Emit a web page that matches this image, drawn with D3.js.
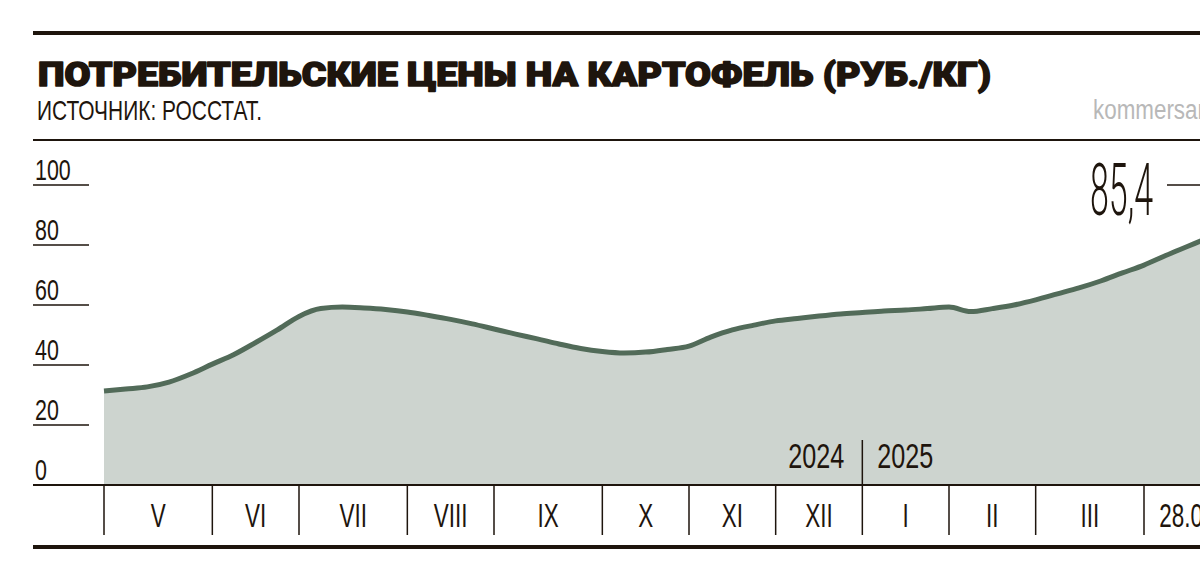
<!DOCTYPE html>
<html>
<head>
<meta charset="utf-8">
<script src="https://cdn.jsdelivr.net/npm/d3@7"></script>
<style>
  body { margin: 0; background: #fff; }
  svg { display: block; }
  text { fill: #1e150d; }
</style>
</head>
<body>
<div class="container"></div>
<script>
// weekly prices, rub/kg, May 2024 .. 28.04.2025
var prices = [31.3, 32.0, 32.7, 34.3, 37.0, 40.3, 43.5, 47.5, 51.7, 56.2,
  58.8, 59.3, 59.0, 58.5, 57.7, 56.5, 55.2, 53.7, 52.0, 50.3,
  48.7, 47.0, 45.5, 44.5, 44.0, 44.3, 45.2, 46.3, 49.3, 51.7,
  53.3, 54.7, 55.5, 56.3, 57.0, 57.5, 58.0, 58.3, 58.8, 59.3,
  57.8, 58.8, 60.0, 61.7, 63.7, 65.7, 68.0, 70.7, 73.3, 76.5,
  79.5, 82.5, 85.4]

var monthStarts = [0, 5, 9, 14, 18, 23, 27, 31, 35, 39, 43, 48, 52]
var monthLabels = ['V', 'VI', 'VII', 'VIII', 'IX', 'X', 'XI', 'XII', 'I', 'II', 'III', '28.04']
var yTicks = [0, 20, 40, 60, 80, 100]
var yearSplit = 35
var years = ['2024', '2025']

var title = 'ПОТРЕБИТЕЛЬСКИЕ ЦЕНЫ НА КАРТОФЕЛЬ (РУБ./КГ)'
var source = 'ИСТОЧНИК: РОССТАТ.'
var lastLabel = '85,4'

var W = 1200, H = 580
var dark = '#1e150d'
var thinFont = '"Liberation Sans", Arial, sans-serif'

var svg = d3.select('.container').append('svg')
  .attr('width', W).attr('height', H)

svg.append('rect').attr('width', W).attr('height', H).attr('fill', '#fff')

var x = d3.scaleLinear().domain([0, 48]).range([104, 1144])
var y = d3.scaleLinear().domain([0, 100]).range([485, 185])

// condensed text: put in a translated g and squash horizontally
function condText(parent, tx, ty, str, size, sx, anchor){
  return parent.append('g').attr('transform', `translate(${tx},${ty})`)
    .append('text')
    .attr('transform', `scale(${sx},1)`)
    .attr('text-anchor', anchor || 'start')
    .style('font-family', thinFont)
    .style('font-size', size + 'px')
    .text(str)
}

// header
svg.append('rect').attr('x', 33).attr('y', 31).attr('width', W).attr('height', 4).attr('fill', dark)

svg.append('text')
  .attr('x', 38).attr('y', 86)
  .attr('textLength', 953).attr('lengthAdjust', 'spacingAndGlyphs')
  .style('font-family', 'Roboto, "DejaVu Sans", sans-serif')
  .style('font-weight', 900)
  .style('font-size', '34px')
  .style('stroke', dark).style('stroke-width', 1.6).style('stroke-linejoin', 'round')
  .text(title)

svg.append('text')
  .attr('x', 37).attr('y', 120)
  .attr('textLength', 225).attr('lengthAdjust', 'spacingAndGlyphs')
  .style('font-family', thinFont)
  .style('font-size', '28px')
  .text(source)

condText(svg, 1093, 119, 'kommersant', 28, 0.8).style('fill', '#b8b8b8')

svg.append('rect').attr('x', 33).attr('y', 139).attr('width', W).attr('height', 2).attr('fill', dark)

// area + line
var area = d3.area()
  .x((d, i) => x(i))
  .y0(y(0))
  .y1(d => y(d))
  .curve(d3.curveMonotoneX)

var line = d3.line()
  .x((d, i) => x(i))
  .y(d => y(d))
  .curve(d3.curveMonotoneX)

svg.append('path').datum(prices).attr('d', area).attr('fill', '#cdd4cf')
svg.append('path').datum(prices).attr('d', line)
  .attr('fill', 'none').attr('stroke', '#526b59').attr('stroke-width', 5)
  .attr('stroke-linejoin', 'round')

// y axis
var yTickSel = svg.append('g').selectAll('g').data(yTicks).join('g')
  .attr('transform', d => `translate(0,${y(d)})`)
yTickSel.filter(d => d > 0).append('rect')
  .attr('x', 33).attr('y', -0.75).attr('width', 56).attr('height', 1.5).attr('fill', dark)
yTickSel.each(function(d){
  condText(d3.select(this), 35, -5, d, 29, 0.74)
})

// x axis
svg.append('rect').attr('x', 33).attr('y', y(0) - 1).attr('width', W).attr('height', 2).attr('fill', dark)

svg.append('g').selectAll('rect').data(monthStarts).join('rect')
  .attr('x', d => x(d) - 0.75).attr('y', y(0)).attr('width', 1.5).attr('height', 50).attr('fill', dark)

monthLabels.forEach((m, i) => {
  var cx = (x(monthStarts[i]) + x(monthStarts[i + 1])) / 2
  condText(svg, cx, 527, m, 34, 0.66, 'middle')
})

// year split
var xs = x(yearSplit)
svg.append('rect').attr('x', xs - 0.75).attr('y', 440).attr('width', 1.5).attr('height', 45).attr('fill', dark)
condText(svg, xs - 18, 468, years[0], 35, 0.72, 'end')
condText(svg, xs + 15, 468, years[1], 35, 0.72, 'start')

// last value
var lastI = prices.length - 1
svg.append('text')
  .attr('x', 1090).attr('y', 215)
  .attr('textLength', 63).attr('lengthAdjust', 'spacingAndGlyphs')
  .style('font-family', 'Roboto, "Liberation Sans", sans-serif')
  .style('font-weight', 300)
  .style('font-size', '72px')
  .text(lastLabel)
svg.append('rect').attr('x', 1167).attr('y', 184.25).attr('width', x(lastI) - 1167).attr('height', 1.5).attr('fill', dark)

// bottom rule
svg.append('rect').attr('x', 33).attr('y', 545).attr('width', W).attr('height', 4).attr('fill', dark)
</script>
</body>
</html>
